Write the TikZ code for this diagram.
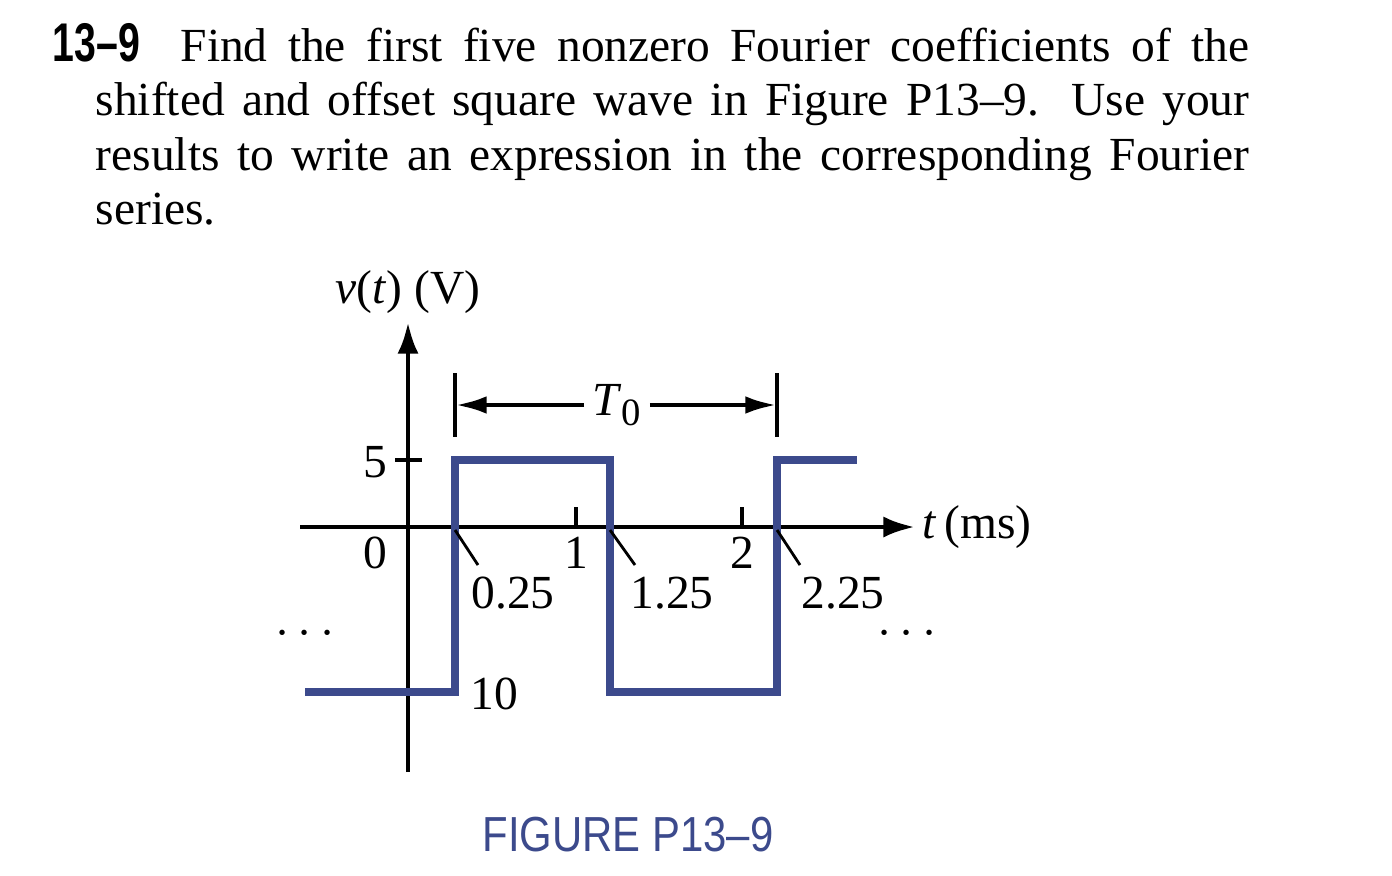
\documentclass[tikz,border=0pt]{standalone}
\usepackage{fontspec}
\setmainfont{Liberation Serif}
\setsansfont{Liberation Sans}
\usetikzlibrary{arrows.meta}
\definecolor{wave}{HTML}{3C4A8C}
\begin{document}
\begin{tikzpicture}[x=0.01cm,y=-0.01cm,font=\fontsize{13.5}{15.4}\selectfont,
  ax/.style={line width=1.4pt},
  wv/.style={wave,line width=2.2pt},
  lbl/.style={inner sep=0pt},
  lead/.style={line width=0.8pt}]
\useasboundingbox (0,0) rectangle (1392,875);
\node[lbl,anchor=north west,text width=11.96cm,align=justify] (txt) at (52,23)
 {\hangindent=0.43cm\hangafter=1\scalebox{0.72}[1]{\sffamily\bfseries\fontsize{15.5}{15.4}\selectfont 13–9}\ \ Find the first five nonzero Fourier coefficients of the\linebreak
 shifted and offset square wave in Figure P13–9. Use your\linebreak
 results to write an expression in the corresponding Fourier\linebreak
 series.\par};
% axes
\coordinate (hx0) at (300,527); \coordinate (hx1) at (915,527);
\coordinate (vy0) at (408,772); \coordinate (vy1) at (408,322);
\draw[ax,-{Latex[length=9pt,width=6pt]}] (hx0) -- (hx1);
\draw[ax,-{Latex[length=9pt,width=6pt]}] (vy0) -- (vy1);
% ticks
\draw[ax] (395,460) -- (422,460);
\draw[ax] (576,507) -- (576,527);
\draw[ax] (742,507) -- (742,527);
% waveform
\coordinate (w0) at (305,692);
\draw[wv] (w0) -- (455,692) -- (455,460) -- (610,460) -- (610,692) -- (777,692) -- (777,460) -- (857,460);
% T0
\draw[ax] (455,373) -- (455,437);
\draw[ax] (777,373) -- (777,437);
\node[lbl] (T0) at (617,405) {\textit{T}{\fontsize{11}{12}\selectfont\raisebox{-0.25em}{0}}};
\draw[ax,-{Latex[length=9pt,width=5pt]}] (T0.west) ++(-8,0) -- (455,405);
\draw[ax,-{Latex[length=9pt,width=5pt]}] (T0.east) ++(8,0) -- (777,405);
% labels
\node[lbl] (vl) at (408,292) {\textit{v}(\textit{t}) (V)};
\node[lbl] (l5) at (375,462) {5};
\node[lbl] (l0) at (375,553) {0};
\node[lbl] (l1) at (576,553) {1};
\node[lbl] (l2) at (742,553) {2};
\node[lbl,anchor=west] (tl) at (922,527) {\textit{t}\,(ms)};
\node[lbl] (a) at (513,593) {0.25};
\node[lbl] (b) at (672,593) {1.25};
\node[lbl] (c) at (843,593) {2.25};
\draw[lead] (455,530) -- (478,565);
\draw[lead] (610,530) -- (635,565);
\draw[lead] (777,530) -- (800,565);
\node[lbl] (d1) at (305,634) {$\cdots$};
\node[lbl] (d2) at (907,634) {$\cdots$};
\node[lbl] (ten) at (494,694) {10};
\node[lbl,wave] (fig) at (628,835) {\scalebox{0.85}[1]{\sffamily\fontsize{14}{16}\selectfont FIGURE P13–9}};
\end{tikzpicture}
\end{document}
